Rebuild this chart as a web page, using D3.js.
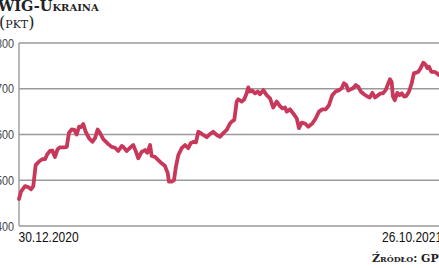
<!DOCTYPE html>
<html>
<head>
<meta charset="utf-8">
<script src="https://cdn.jsdelivr.net/npm/d3@7"></script>
<style>
  body { margin: 0; background: #fff; overflow: hidden; }
  svg { display: block; }
</style>
</head>
<body>
<svg id="chart" width="439" height="268"></svg>
<script>
// DATA: day offset from 30.12.2020, index value (pkt)
var days = [0,1.4,4.3,6.6,8.6,10.2,11.9,14.3,16.6,18.6,20.2,22.1,23.8,25.7,27.6,29.3,32.4,34.1,35.7,37.6,
  39.5,41.2,42.9,44.3,45.9,47.6,50,52.4,54.3,56.2,57.9,60.2,63.8,66.2,68.6,70.9,73.4,74.5,76.9,79.3,
  81.6,83.6,85.2,87.6,90,91.6,93.6,94.8,97.1,99.5,101.9,104.3,106.2,107.1,109.1,110.7,112.1,113.8,116.2,118.6,
  120.9,122.6,124.5,126.4,128.1,129.8,131.6,134.1,136.4,138.8,141.2,143.6,145.9,148.4,150.7,151.9,153.8,155.5,156.6,159.1,
  160.9,162.6,163.8,165,166.6,168.6,170.5,172.1,174.5,176.9,179.3,181.6,184.1,186.4,188.1,190,191.2,193.6,195.9,198.4,
  200,201.9,204.3,206.6,209.5,211.9,214.3,216.6,219.1,221.4,223.8,226.2,228.6,230.5,232.1,233.8,235.2,236.9,238.6,240.5,
  242.4,244.1,246.4,248.8,250.5,252.4,254.3,256.6,258.4,260,261.9,263.8,265,266.2,267.1,268.4,270.2,271.9,273.4,275,
  276.6,278.6,280.5,282.1,283.8,285.2,286.9,288.8,290.5,291.7,292.9,294.5,296.4,298,300];
var values = [459,475,487,485,480,487,533,541,546,546,557,564,565,551,568,572,572,573,604,611,
  610,600,617,616,623,606,592,584,592,611,603,590,579,573,571,564,575,573,564,571,
  577,562,548,562,566,560,577,553,551,544,537,531,516,497,497,500,530,555,570,577,
  570,581,584,583,606,603,599,594,601,606,599,595,603,610,624,628,632,672,677,672,
  677,690,703,694,696,690,694,688,697,686,679,659,672,662,657,659,650,655,646,635,
  614,626,624,617,624,635,650,655,655,664,686,694,697,701,712,708,696,699,701,708,
  704,694,688,683,681,691,681,686,690,690,697,712,721,715,683,675,691,686,690,683,
  684,694,712,734,735,737,745,757,752,745,748,737,737,735,730];
var yTicks = [400, 500, 600, 700, 800];
var dateLabels = ["30.12.2020", "26.10.2021"];
var titleText = "WIG-Ukraina";
var unitText = "(pkt)";
var sourceText = "Źródło: GPW";

var svg = d3.select("#chart");
var margin = {left: 19, right: 0, top: 43, bottom: 42};
var W = 439, H = 268;
var NARROW = 0.83;   // condensed look for the sans labels

var x = d3.scaleLinear().domain([0, 300]).range([margin.left, W]);
var y = d3.scaleLinear().domain([400, 800]).range([H - margin.bottom, margin.top]);

// GRIDLINES
svg.append("g")
  .selectAll("line.grid")
  .data(yTicks)
  .enter().append("line")
  .attr("x1", margin.left).attr("x2", W)
  .attr("y1", function(d) { return y(d); })
  .attr("y2", function(d) { return y(d); })
  .style("stroke", "#9a9a9a")
  .style("stroke-width", 1.4);

// LEFT AXIS LINE
svg.append("line")
  .attr("x1", margin.left).attr("x2", margin.left)
  .attr("y1", y(800)).attr("y2", y(400))
  .style("stroke", "#9a9a9a")
  .style("stroke-width", 1.4);

// TICK LABELS (condensed via horizontal scale)
svg.append("g")
  .selectAll("text")
  .data(yTicks)
  .enter().append("text")
  .attr("transform", function(d) { return "translate(14," + (y(d) + 4.5) + ") scale(" + NARROW + ",1)"; })
  .attr("text-anchor", "end")
  .style("font-family", "'Liberation Sans', sans-serif")
  .style("font-size", "13px")
  .style("fill", "#444")
  .text(function(d) { return d; });

// LINE
var line = d3.line()
  .x(function(d, i) { return x(days[i]); })
  .y(function(d) { return y(d); });

svg.append("path")
  .datum(values)
  .attr("d", line)
  .style("fill", "none")
  .style("stroke", "#c8385a")
  .style("stroke-width", 3.8)
  .style("stroke-linejoin", "round")
  .style("stroke-linecap", "round");

// DATE LABELS
svg.append("text")
  .attr("transform", "translate(" + (x(0) - 0.5) + ",242) scale(" + NARROW + ",1)")
  .style("font-family", "'Liberation Sans', sans-serif")
  .style("font-size", "14.5px")
  .style("fill", "#111")
  .text(dateLabels[0]);

svg.append("text")
  .attr("transform", "translate(" + (x(300) - 57) + ",242) scale(" + NARROW + ",1)")
  .style("font-family", "'Liberation Sans', sans-serif")
  .style("font-size", "14.5px")
  .style("fill", "#111")
  .text(dateLabels[1]);

// TITLE
svg.append("text")
  .attr("x", -2).attr("y", 11)
  .style("font-family", "'DejaVu Serif', serif")
  .style("font-weight", "bold")
  .style("font-variant", "small-caps")
  .style("font-size", "14.5px")
  .style("fill", "#222")
  .text(titleText);

svg.append("text")
  .attr("x", -1).attr("y", 27.5)
  .style("font-family", "'DejaVu Serif', serif")
  .style("font-variant", "small-caps")
  .style("font-size", "16px")
  .style("fill", "#222")
  .text(unitText);

// SOURCE
svg.append("text")
  .attr("x", 372).attr("y", 262)
  .style("font-family", "'DejaVu Serif', serif")
  .style("font-weight", "bold")
  .style("font-variant", "small-caps")
  .style("font-size", "11px")
  .style("fill", "#222")
  .text(sourceText);
</script>
</body>
</html>
